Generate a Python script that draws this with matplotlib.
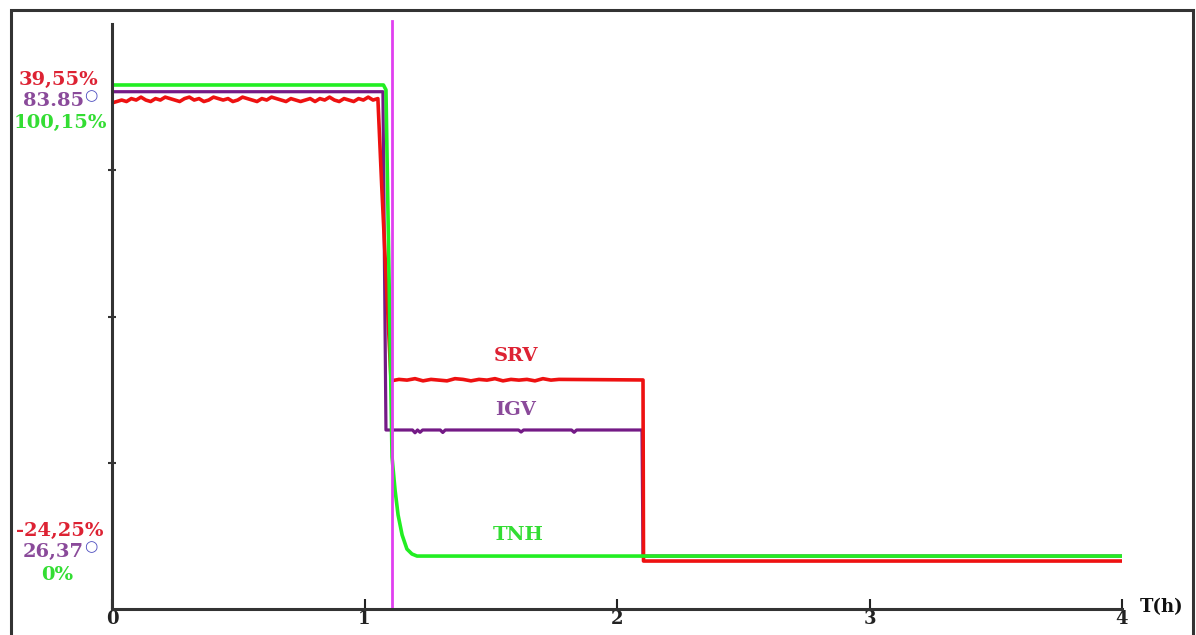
import numpy as np
import matplotlib
matplotlib.use("Agg")
import matplotlib.pyplot as plt
from matplotlib.patches import Rectangle

# values (y axis: 0..4 arbitrary units, x: hours)
srv_top = [3.46, 3.47, 3.48, 3.47, 3.49, 3.48, 3.50, 3.48, 3.47, 3.49, 3.48, 3.50,
           3.49, 3.48, 3.47, 3.49, 3.50, 3.48, 3.49, 3.47, 3.48, 3.50, 3.49, 3.48,
           3.49, 3.47, 3.48, 3.50, 3.49, 3.48, 3.47, 3.49, 3.48, 3.50, 3.49, 3.48,
           3.47, 3.49, 3.48, 3.47, 3.48, 3.49, 3.47, 3.49, 3.48, 3.50, 3.48, 3.47,
           3.49, 3.48, 3.47, 3.49, 3.48, 3.50, 3.48, 3.49]
srv_mid = [1.56, 1.57, 1.565, 1.575, 1.56, 1.57, 1.565, 1.56, 1.575, 1.57, 1.56,
           1.57, 1.565, 1.575, 1.56, 1.57, 1.565, 1.57, 1.56, 1.575, 1.565, 1.57,
           1.566]
srv_t_drop = [1.053, 1.068, 1.105]
srv_v_drop = [3.48, 2.90, 1.566]
srv_t_end = [2.103, 2.105, 4.0]
srv_v_end = [1.566, 0.328, 0.328]

igv_t = [0.0, 1.073, 1.085, 1.19, 1.20, 1.21, 1.22, 1.23, 1.30, 1.31, 1.32,
         1.61, 1.62, 1.63, 1.82, 1.83, 1.84, 2.099, 2.103, 4.0]
igv_v = [3.537, 3.537, 1.224, 1.224, 1.205, 1.224, 1.208, 1.224, 1.224, 1.207,
         1.224, 1.224, 1.21, 1.224, 1.224, 1.208, 1.224, 1.224, 0.362, 0.362]

tnh_t = [0.0, 1.075, 1.085, 1.105, 1.109, 1.121, 1.133, 1.149, 1.168, 1.188,
         1.208, 4.0]
tnh_v = [3.583, 3.583, 3.55, 1.45, 1.039, 0.814, 0.643, 0.506, 0.410, 0.376,
         0.362, 0.362]

marker_t = 1.109
x_ticks = [0, 1, 2, 3, 4]

red = "#ee1111"
purple = "#741a86"
green = "#22ee22"

fig = plt.figure(figsize=(11.96, 6.35), dpi=100)
ax = fig.add_axes([112 / 1196, 26 / 635, 1010 / 1196, 585 / 635])

srv_t = list(np.linspace(0, 1.053, len(srv_top))) + srv_t_drop[1:] + \
    list(np.linspace(1.105, 1.77, len(srv_mid) - 1)) + [2.103] + srv_t_end[1:]
srv_v = srv_top + srv_v_drop[1:] + srv_mid[:-1] + [srv_mid[-1]] + srv_v_end[1:]

ax.plot(igv_t, igv_v, color=purple, lw=2.3)
ax.plot(srv_t, srv_v, color=red, lw=2.6)
ax.plot(tnh_t, tnh_v, color=green, lw=2.6, solid_joinstyle="round")
ax.axvline(marker_t, color="#e040f0", lw=2.0, ymax=1.005, clip_on=False)

ax.set_xlim(0, 4)
ax.set_ylim(0, 4)
for s in ["top", "right"]:
    ax.spines[s].set_visible(False)
for s in ["left", "bottom"]:
    ax.spines[s].set_color("#333333")
    ax.spines[s].set_linewidth(2.2)

ax.set_xticks(x_ticks)
ax.set_xticklabels([str(t) for t in x_ticks], fontfamily="DejaVu Serif",
                   fontweight="bold", fontsize=13)
ax.tick_params(axis="x", direction="in", length=7, width=1.5, pad=1,
               colors="#222222")
ax.set_yticks([1, 2, 3])
ax.set_yticklabels([])
ax.tick_params(axis="y", direction="inout", length=6, width=1.5, colors="#333333")

font = dict(fontfamily="DejaVu Serif", fontweight="bold")
ax.text(1.6, 1.73, "SRV", color="#dd2233", ha="center", va="center", fontsize=14, **font)
ax.text(1.6, 1.36, "IGV", color="#8a4a9a", ha="center", va="center", fontsize=14, **font)
ax.text(1.608, 0.506, "TNH", color="#33dd33", ha="center", va="center", fontsize=14, **font)

def ftext(px, py, s, color, size=14, ha="center"):
    fig.text(px / 1196, 1 - py / 635, s, color=color, ha=ha, va="center",
             fontsize=size, **font)

ftext(58, 80, "39,55%", "#dd2233")
ftext(84, 101, "83.85", "#8a4a9a", ha="right")
ftext(91, 96, "○", "#5050c0", size=11)
ftext(60, 123, "100,15%", "#33dd33")
ftext(60, 531, "-24,25%", "#dd2233")
ftext(84, 552, "26,37", "#8a4a9a", ha="right")
ftext(91, 547, "○", "#5050c0", size=11)
ftext(57, 575, "0%", "#33dd33")
ftext(1162, 607, "T(h)", "#111111", size=13)

fig.patches.append(Rectangle((11 / 1196, -0.05), 1182 / 1196, 1 - 10 / 635 + 0.05,
                             transform=fig.transFigure, fill=False,
                             edgecolor="#333333", lw=2.2))

fig.savefig("out.png", dpi=100)
